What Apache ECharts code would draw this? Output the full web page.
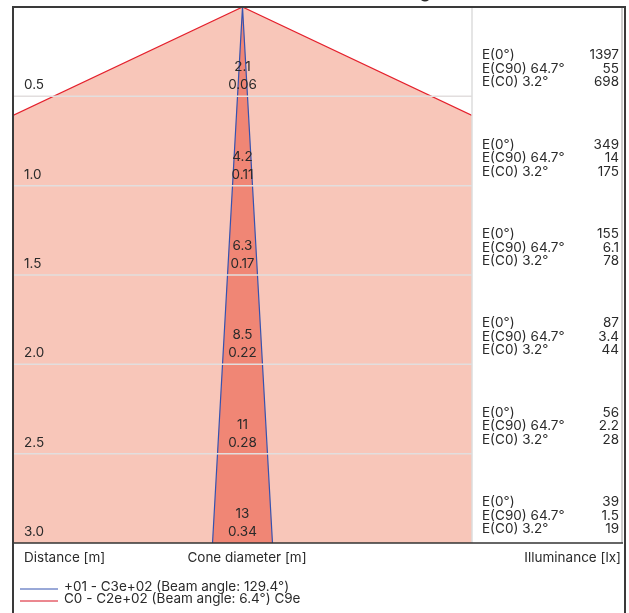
<!DOCTYPE html>
<html>
<head>
<meta charset="utf-8">
<script src="https://cdn.jsdelivr.net/npm/echarts@6/dist/echarts.min.js"></script>
<style>html,body{margin:0;padding:0;background:#fff}#c{width:629px;height:613px}</style>
</head>
<body>
<div id="c"></div>
<script>
const distances = [0.5, 1.0, 1.5, 2.0, 2.5, 3.0];
const distanceLabels = ['0.5', '1.0', '1.5', '2.0', '2.5', '3.0'];
const wideDiameters = ['2.1', '4.2', '6.3', '8.5', '11', '13'];
const narrowDiameters = ['0.06', '0.11', '0.17', '0.22', '0.28', '0.34'];
const eCenter = ['1397', '349', '155', '87', '56', '39'];
const eC90 = ['55', '14', '6.1', '3.4', '2.2', '1.5'];
const eC0 = ['698', '175', '78', '44', '28', '19'];
const rowNames = ['E(0°)', 'E(C90) 64.7°', 'E(C0) 3.2°'];
const wideHalfAngle = 64.7;
const narrowHalfAngle = 3.2;
const xExtent = 1.284;
const maxDistance = 3.0;
const legendItems = ['+01 - C3e+02 (Beam angle: 129.4°)', 'C0 - C2e+02 (Beam angle: 6.4°) C9e'];
const footerLabels = ['Distance [m]', 'Cone diameter [m]', 'Illuminance [lx]'];

const FONT = '13.5px Inter, "Noto Sans", sans-serif';
const TXT = '#2a2a2a';
const rad = a => a * Math.PI / 180;

const chart = echarts.init(document.getElementById('c'));

function txt(x, y, text, align, vAlign, font) {
  return { type: 'text', x: x, y: y, style: { text: text, fill: TXT, font: font || FONT,
    align: align, verticalAlign: vAlign, textAlign: align, textVerticalAlign: vAlign } };
}

const wideT = Math.tan(rad(wideHalfAngle));
const narrowT = Math.tan(rad(narrowHalfAngle));
const dClip = xExtent / wideT;

const option = {
  animation: false,
  grid: { left: 13, top: 7, width: 459, height: 536 },
  xAxis: { type: 'value', min: -xExtent, max: xExtent, show: false },
  yAxis: { type: 'value', min: 0, max: maxDistance, inverse: true, show: false },
  series: [
    {
      type: 'custom', z: 1, clip: true, data: [[0, 0]],
      renderItem: function (params, api) {
        const poly = [[0, 0], [-xExtent, dClip], [-xExtent, maxDistance], [xExtent, maxDistance], [xExtent, dClip]].map(p => api.coord(p));
        const edge = [[-xExtent, dClip], [0, 0], [xExtent, dClip]].map(p => api.coord(p));
        return { type: 'group', children: [
          { type: 'polygon', shape: { points: poly }, style: { fill: '#f8c6b9', stroke: null } },
          { type: 'polyline', shape: { points: edge }, style: { stroke: '#e4202c', lineWidth: 1.2, fill: null } }
        ] };
      }
    },
    {
      type: 'custom', z: 2, clip: true, data: [[0, 0]],
      renderItem: function (params, api) {
        const w = narrowT * maxDistance;
        const poly = [[0, 0], [-w, maxDistance], [w, maxDistance]].map(p => api.coord(p));
        return { type: 'group', children: [
          { type: 'polygon', shape: { points: poly }, style: { fill: '#f08675', stroke: null } },
          { type: 'polyline', shape: { points: [poly[1], poly[0], poly[2]] }, style: { stroke: '#3552b0', lineWidth: 1.2, fill: null } }
        ] };
      }
    },
    {
      type: 'custom', z: 3, clip: false, data: distances.map((d, i) => [i, d]),
      renderItem: function (params, api) {
        const i = api.value(0), d = api.value(1);
        const left = api.coord([-xExtent, d]);
        const right = api.coord([xExtent, d]);
        const mid = api.coord([0, d]);
        const children = [];
        if (d < maxDistance) {
          children.push({ type: 'line', shape: { x1: left[0], y1: left[1], x2: right[0], y2: right[1] },
            style: { stroke: '#e2dede', lineWidth: 1.5 } });
        }
        children.push(txt(left[0] + 11, left[1] - 11, distanceLabels[i], 'left', 'middle'));
        children.push(txt(mid[0], mid[1] - 29, wideDiameters[i], 'center', 'middle'));
        children.push(txt(mid[0], mid[1] - 11, narrowDiameters[i], 'center', 'middle'));
        const vals = [eCenter[i], eC90[i], eC0[i]];
        for (let k = 0; k < 3; k++) {
          const yy = right[1] - 41 + k * 13.5;
          children.push(txt(right[0] + 10, yy, rowNames[k], 'left', 'middle'));
          children.push(txt(right[0] + 147, yy, vals[k], 'right', 'middle'));
        }
        return { type: 'group', children: children };
      }
    }
  ],
  graphic: [
    { type: 'line', z: 10, shape: { x1: 472, y1: 7, x2: 472, y2: 543 }, style: { stroke: '#dddddd', lineWidth: 1.5 } },
    { type: 'line', z: 10, shape: { x1: 622, y1: 7, x2: 622, y2: 543 }, style: { stroke: '#999999', lineWidth: 1 } },
    { type: 'line', z: 10, shape: { x1: 13, y1: 543, x2: 623, y2: 543 }, style: { stroke: '#333', lineWidth: 1.5 } },
    { type: 'rect', z: 10, shape: { x: 13, y: 7, width: 612, height: 620 }, style: { stroke: '#3a3a3a', lineWidth: 2, fill: null } },
    Object.assign(txt(335, 1, 'Cone diagram', 'left', 'bottom', '20px Inter, sans-serif'), { z: 10 }),
    Object.assign(txt(24, 558, footerLabels[0], 'left', 'middle'), { z: 10 }),
    Object.assign(txt(247, 558, footerLabels[1], 'center', 'middle'), { z: 10 }),
    Object.assign(txt(621, 558, footerLabels[2], 'right', 'middle'), { z: 10 }),
    { type: 'line', z: 10, shape: { x1: 20, y1: 589, x2: 58, y2: 589 }, style: { stroke: '#3552b0', lineWidth: 1 } },
    { type: 'line', z: 10, shape: { x1: 20, y1: 601, x2: 58, y2: 601 }, style: { stroke: '#d81020', lineWidth: 1 } },
    Object.assign(txt(64, 587, legendItems[0], 'left', 'middle'), { z: 10 }),
    Object.assign(txt(64, 599, legendItems[1], 'left', 'middle'), { z: 10 })
  ]
};
chart.setOption(option);
</script>
</body>
</html>
